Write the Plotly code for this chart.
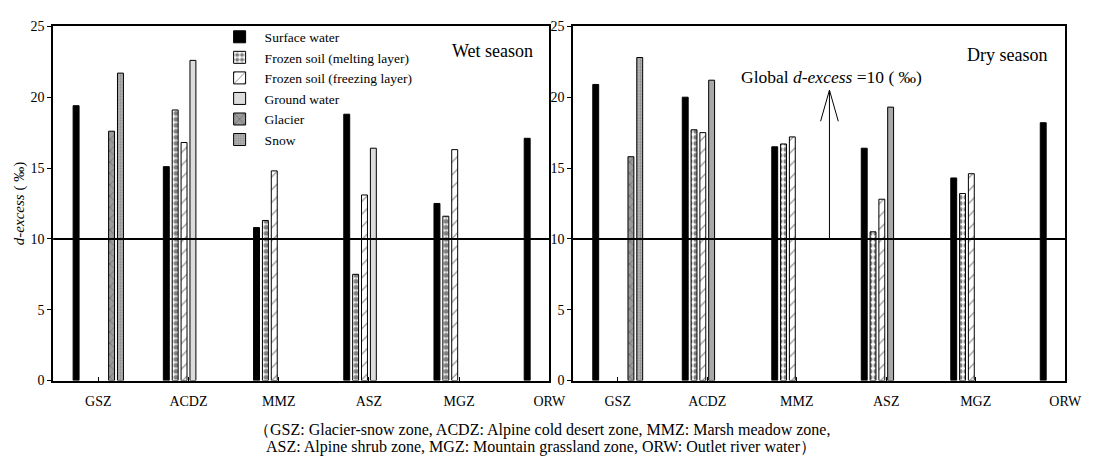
import plotly.graph_objects as go

zones = ["GSZ", "ACDZ", "MMZ", "ASZ", "MGZ", "ORW"]
series_names = ["Surface water", "Frozen soil (melting layer)", "Frozen soil (freezing layer)",
                "Ground water", "Glacier", "Snow"]

wet_surface = [19.4, 15.1, 10.8, 18.8, 12.5, 17.1]
wet_melting = [None, 19.1, 11.3, 7.5, 11.6, None]
wet_freezing = [None, 16.8, 14.8, 13.1, 16.3, None]
wet_ground = [None, 22.6, None, 16.4, None, None]
wet_glacier = [17.6, None, None, None, None, None]
wet_snow = [21.7, None, None, None, None, None]

dry_surface = [20.9, 20.0, 16.5, 16.4, 14.3, 18.2]
dry_melting = [None, 17.7, 16.7, 10.5, 13.2, None]
dry_freezing = [None, 17.5, 17.2, 12.8, 14.6, None]
dry_ground = [None, 21.2, None, 19.3, None, None]
dry_glacier = [15.8, None, None, None, None, None]
dry_snow = [22.8, None, None, None, None, None]

global_dexcess = 10

FONT = "Liberation Serif, 'Times New Roman', 'DejaVu Serif', serif"

styles = [
    dict(color="black", pattern=dict(shape="")),
    dict(color="white", pattern=dict(shape=".", fgcolor="black", size=6, solidity=0.55)),
    dict(color="white", pattern=dict(shape="/", fgcolor="black", size=9, solidity=0.12)),
    dict(color="#dcdcdc", pattern=dict(shape="")),
    dict(color="#9a9a9a", pattern=dict(shape="x", fgcolor="black", size=8, solidity=0.12)),
    dict(color="#b4b4b4", pattern=dict(shape=".", fgcolor="#555555", size=3, solidity=0.3)),
]

fig = go.Figure()

wet = [wet_surface, wet_melting, wet_freezing, wet_ground, wet_glacier, wet_snow]
dry = [dry_surface, dry_melting, dry_freezing, dry_ground, dry_glacier, dry_snow]

for i, (name, vals) in enumerate(zip(series_names, wet)):
    st = styles[i]
    fig.add_trace(go.Bar(x=zones, y=vals, name=name, xaxis="x", yaxis="y",
                         marker=dict(color=st["color"], pattern=st["pattern"],
                                     line=dict(color="black", width=1)),
                         showlegend=True, legendgroup=name))
for i, (name, vals) in enumerate(zip(series_names, dry)):
    st = styles[i]
    color = st["color"]
    if i == 3:
        color = "#a8a8a8"
    fig.add_trace(go.Bar(x=zones, y=vals, name=name, xaxis="x2", yaxis="y2",
                         marker=dict(color=color, pattern=st["pattern"],
                                     line=dict(color="black", width=1)),
                         showlegend=False, legendgroup=name))

W, H = 1097, 466
ydom = [1 - 386 / H, 1 - 20 / H]
axis_common = dict(showline=True, linecolor="black", linewidth=1.5, mirror=True,
                   showgrid=False, zeroline=False,
                   tickfont=dict(family=FONT, size=14, color="black"))

fig.update_layout(
    width=W, height=H,
    margin=dict(l=0, r=0, t=0, b=0),
    paper_bgcolor="white", plot_bgcolor="white",
    barmode="group", bargap=0.41, bargroupgap=0.33,
    font=dict(family=FONT, color="black"),
    xaxis=dict(domain=[54 / W, 558 / W], type="category", range=[-0.5, 5],
               ticks="inside", ticklen=4, tickcolor="black", anchor="y",
               ticklabelstandoff=7, **axis_common),
    yaxis=dict(domain=ydom, range=[0, 25], dtick=5, ticks="outside", ticklen=4,
               tickcolor="black", anchor="x", **axis_common),
    xaxis2=dict(domain=[582 / W, 1082 / W], type="category", range=[-0.5, 5],
                ticks="inside", ticklen=4, tickcolor="black", anchor="y2",
                ticklabelstandoff=7, **axis_common),
    yaxis2=dict(domain=ydom, range=[0, 25], dtick=5, ticks="outside", ticklen=4,
                tickcolor="black", anchor="x2", **axis_common),
    legend=dict(x=218 / W, y=1 - 15 / H, xanchor="left", yanchor="top",
                bgcolor="rgba(0,0,0,0)", font=dict(family=FONT, size=13.5, color="black"),
                tracegroupgap=0, itemwidth=40, traceorder="normal"),
)

# Global d-excess reference lines
for xr, yr in (("x domain", "y"), ("x2 domain", "y2")):
    fig.add_shape(type="line", xref=xr, yref=yr, x0=0, x1=1, y0=global_dexcess, y1=global_dexcess,
                  line=dict(color="black", width=2), layer="above")

# arrow in dry panel
ax_x = 0.521
fig.add_shape(type="line", xref="x2 domain", yref="y2", x0=ax_x, x1=ax_x, y0=global_dexcess, y1=20.5,
              line=dict(color="black", width=1))
fig.add_shape(type="line", xref="x2 domain", yref="y2", x0=ax_x, x1=ax_x - 0.018, y0=20.5, y1=18.3,
              line=dict(color="black", width=1))
fig.add_shape(type="line", xref="x2 domain", yref="y2", x0=ax_x, x1=ax_x + 0.018, y0=20.5, y1=18.3,
              line=dict(color="black", width=1))

annots = [
    dict(text="Wet season", x=500 / W, y=1 - 45 / H, size=18),
    dict(text="Dry season", x=1023 / W, y=1 - 50 / H, size=18),
    dict(text="Global <i>d-excess</i> =10 ( ‰)", x=845 / W, y=1 - 72 / H, size=17.5),
    dict(text="（GSZ: Glacier-snow zone, ACDZ: Alpine cold desert zone, MMZ: Marsh meadow zone,",
         x=551 / W, y=1 - 437 / H, size=16),
    dict(text="ASZ: Alpine shrub zone, MGZ: Mountain grassland zone, ORW: Outlet river water）",
         x=550 / W, y=1 - 455 / H, size=16),
]
for a in annots:
    fig.add_annotation(text=a["text"], x=a["x"], y=a["y"], xref="paper", yref="paper",
                       xanchor="center", yanchor="middle", showarrow=False,
                       font=dict(family=FONT, size=a["size"], color="black"))
fig.add_annotation(text="<i>d-excess</i> ( ‰)", x=20 / W, y=1 - 203 / H, xref="paper", yref="paper",
                   xanchor="center", yanchor="middle", showarrow=False, textangle=-90,
                   font=dict(family=FONT, size=15, color="black"))

fig.write_html(
    "out.html",
    post_script="document.body.style.margin='0';document.body.style.overflow='hidden';",
)
